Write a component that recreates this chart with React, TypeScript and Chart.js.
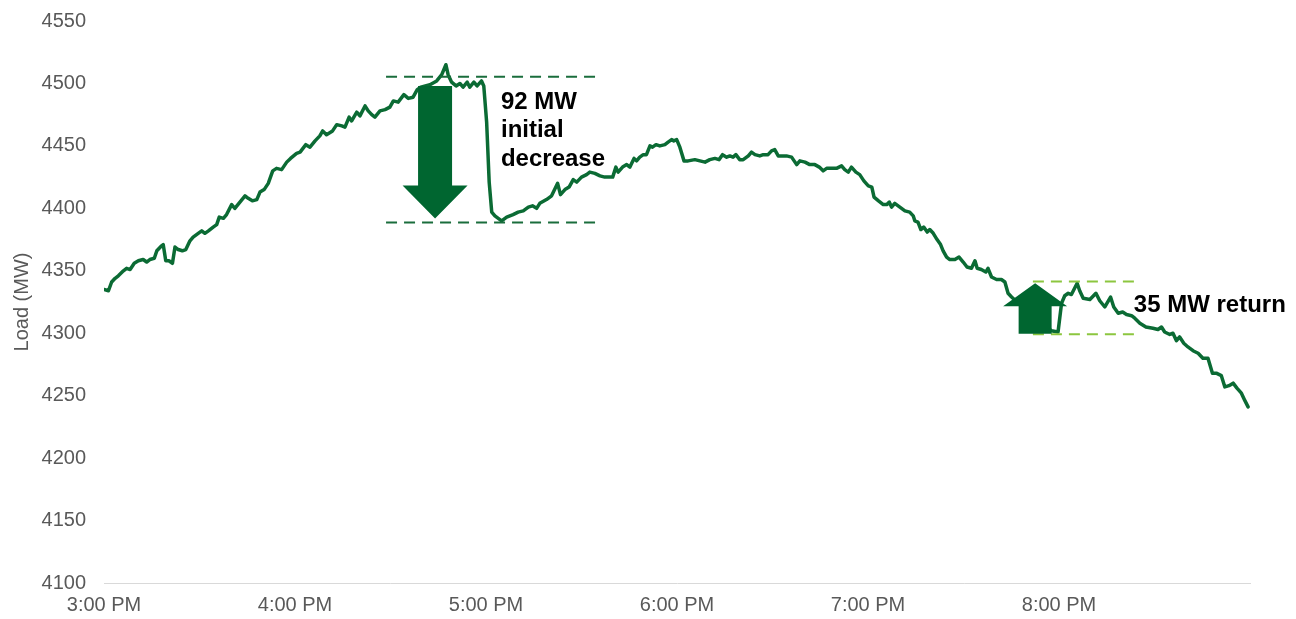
import React, { useEffect, useRef } from 'react';
import { Chart, registerables } from 'chart.js';

Chart.register(...registerables);

// Minutes after 3:00 PM and load readings (MW)
const MINUTES = [
  0, 1.4, 2.4, 3.5, 4.5, 6.1, 7.1, 8.2, 9.5, 10.8, 12.3, 13.4, 14.4, 15.8, 16.6, 18.1, 18.6, 19.4, 20.4, 21.5,
  22.3, 23.3, 24.6, 25.7, 27.0, 28.0, 29.6, 30.7, 31.7, 32.8, 34.3, 35.4, 36.2, 37.5, 38.5, 40.1, 41.1, 42.7, 44.3, 45.3,
  46.6, 48.0, 49.0, 50.3, 51.6, 53.0, 54.2, 55.8, 57.4, 58.6, 60.5, 61.6, 63.4, 64.7, 66.3, 67.8, 68.7, 69.9, 71.8, 73.1,
  74.7, 75.7, 77.0, 77.8, 79.4, 80.4, 82.0, 83.0, 84.1, 85.1, 86.7, 88.3, 89.8, 90.9, 92.4, 94.2, 95.6, 97.1, 98.4, 99.5,
  102.4, 104.5, 106.1, 107.4, 108.1, 109.2, 110.6, 111.8, 112.8, 114.1, 114.9, 116.2, 117.2, 118.6, 119.3, 120.2, 121.0, 121.8, 122.8, 124.9,
  126.5, 128.5, 130.1, 131.7, 133.3, 134.6, 135.9, 136.9, 139.0, 140.6, 142.5, 143.4, 144.8, 146.1, 147.4, 148.5, 150.0, 151.6, 152.6, 154.2,
  155.8, 157.3, 159.8, 160.8, 161.5, 162.9, 164.2, 165.2, 166.5, 167.3, 168.3, 169.4, 170.4, 171.5, 172.3, 173.4, 174.6, 176.2, 177.2, 178.3,
  179.0, 179.9, 180.9, 182.2, 183.5, 185.6, 187.2, 188.8, 190.3, 191.9, 193.2, 194.3, 195.6, 196.6, 197.6, 198.5, 199.7, 200.8, 202.4, 203.4,
  204.5, 206.0, 207.1, 208.6, 209.7, 210.7, 211.8, 214.4, 216.0, 217.6, 218.6, 220.2, 221.7, 223.3, 224.7, 225.9, 227.0, 230.1, 231.7, 232.7,
  233.8, 234.8, 236.2, 237.4, 238.7, 240.1, 241.2, 241.9, 243.3, 244.8, 245.9, 246.7, 247.4, 248.4, 250.0, 251.6, 253.1, 254.2, 254.7, 255.7,
  256.6, 257.5, 258.6, 259.4, 260.5, 261.7, 262.8, 263.6, 264.7, 265.7, 267.3, 268.6, 269.9, 271.1, 272.5, 273.6, 274.3, 275.6, 277.0, 277.7,
  278.8, 280.4, 281.9, 283.0, 284.0, 285.1, 287.7, 290.8, 294.0, 297.6, 299.7, 300.8, 301.8, 302.9, 303.9, 305.7, 306.5, 307.6, 309.7, 311.6,
  312.8, 314.4, 316.2, 317.2, 318.6, 320.0, 321.2, 322.8, 323.8, 325.4, 327.3, 329.5, 331.1, 332.2, 333.2, 334.8, 335.8, 336.9, 337.9, 339.2,
  340.5, 342.1, 343.7, 345.2, 346.8, 348.2, 349.4, 351.0, 352.1, 353.4, 354.7, 355.9, 357.3, 358.4, 359.4,
];

const LOAD_MW = [
  4335, 4334, 4341, 4344, 4346, 4350, 4352, 4351, 4356, 4358, 4359, 4357, 4359, 4360, 4366, 4370, 4371, 4358, 4358, 4356,
  4369, 4367, 4366, 4367, 4374, 4377, 4380, 4382, 4380, 4382, 4385, 4387, 4393, 4392, 4395, 4403, 4400, 4405, 4410, 4408,
  4406, 4407, 4413, 4415, 4420, 4430, 4432, 4431, 4437, 4440, 4444, 4445, 4451, 4449, 4454, 4458, 4462, 4459, 4462, 4467,
  4466, 4465, 4473, 4470, 4477, 4474, 4482, 4478, 4475, 4473, 4478, 4479, 4481, 4486, 4485, 4491, 4488, 4489, 4495, 4497,
  4499, 4502, 4507, 4515, 4507, 4501, 4498, 4500, 4497, 4501, 4497, 4501, 4498, 4502, 4498, 4469, 4421, 4397, 4394, 4390,
  4393, 4395, 4397, 4398, 4401, 4402, 4400, 4404, 4407, 4410, 4420, 4411, 4415, 4417, 4423, 4421, 4425, 4427, 4429, 4428,
  4426, 4425, 4425, 4433, 4429, 4433, 4435, 4433, 4440, 4438, 4441, 4443, 4443, 4450, 4449, 4451, 4450, 4451, 4453, 4455,
  4454, 4455, 4449, 4438, 4438, 4439, 4438, 4437, 4439, 4440, 4439, 4443, 4441, 4442, 4441, 4443, 4439, 4439, 4442, 4445,
  4443, 4442, 4443, 4443, 4446, 4447, 4442, 4442, 4441, 4435, 4438, 4437, 4435, 4435, 4433, 4430, 4432, 4432, 4434, 4431,
  4429, 4433, 4429, 4427, 4422, 4418, 4417, 4409, 4406, 4403, 4403, 4405, 4401, 4404, 4401, 4398, 4397, 4394, 4390, 4389,
  4383, 4385, 4381, 4383, 4380, 4375, 4371, 4366, 4361, 4359, 4359, 4361, 4357, 4353, 4352, 4358, 4352, 4351, 4349, 4352,
  4345, 4343, 4343, 4341, 4332, 4329, 4323, 4316, 4309, 4302, 4301, 4324, 4330, 4332, 4331, 4340, 4334, 4328, 4327, 4332,
  4326, 4321, 4329, 4321, 4316, 4317, 4315, 4314, 4312, 4308, 4305, 4304, 4303, 4305, 4301, 4299, 4300, 4294, 4297, 4292,
  4289, 4286, 4284, 4280, 4280, 4268, 4268, 4266, 4257, 4258, 4260, 4256, 4252, 4246, 4241,
];

const HOUR_LABELS = ['3:00 PM', '4:00 PM', '5:00 PM', '6:00 PM', '7:00 PM', '8:00 PM'];
const X_MIN = 0;
const X_MAX = 360;
const Y_MIN = 4100;
const Y_MAX = 4550;
const Y_STEP = 50;

// Annotation anchors in data units (minutes, MW)
const DROP_BAND = { from: 88.6, to: 155.2, top: 4505.3, bottom: 4388.6 };
const DROP_ARROW = { at: 104, tail: 4498, tip: 4391.8 };
const DROP_TEXT = { at: 124.7, firstBaseline: 4479.7, lines: ['92 MW', 'initial', 'decrease'] };
const RETURN_BAND = { from: 291.8, to: 323.8, top: 4341.4, bottom: 4299.2 };
const RETURN_ARROW = { at: 292.5, tail: 4299.6, tip: 4340 };
const RETURN_TEXT = { at: 323.5, baseline: 4316.6, text: '35 MW return' };

const LINE_COLOR = '#0b6b34';
const ARROW_COLOR = '#006630';
const DARK_DASH = '#1a6d3c';
const LIGHT_DASH = '#8cc63f';
const AXIS_TEXT = '#595959';
const FONT = '"Liberation Sans", Arial, sans-serif';

function drawArrow(ctx: CanvasRenderingContext2D, cx: number, tailY: number, tipY: number, shaftW: number, headW: number, headLen: number) {
  const dir = tipY > tailY ? 1 : -1;
  const baseY = tipY - dir * headLen;
  ctx.beginPath();
  ctx.moveTo(cx - shaftW / 2, tailY);
  ctx.lineTo(cx + shaftW / 2, tailY);
  ctx.lineTo(cx + shaftW / 2, baseY);
  ctx.lineTo(cx + headW / 2, baseY);
  ctx.lineTo(cx, tipY);
  ctx.lineTo(cx - headW / 2, baseY);
  ctx.lineTo(cx - shaftW / 2, baseY);
  ctx.closePath();
  ctx.fill();
}

const annotationPlugin = {
  id: 'loadAnnotations',
  afterDatasetsDraw(chart: any) {
    const { ctx } = chart;
    const xs = chart.scales.x;
    const ys = chart.scales.y;
    const px = (v: number) => xs.getPixelForValue(v);
    const py = (v: number) => ys.getPixelForValue(v);
    ctx.save();

    const dashLine = (x0: number, x1: number, yv: number, color: string) => {
      ctx.beginPath();
      ctx.setLineDash([11, 7]);
      ctx.strokeStyle = color;
      ctx.lineWidth = 2;
      ctx.moveTo(px(x0), py(yv));
      ctx.lineTo(px(x1), py(yv));
      ctx.stroke();
    };
    dashLine(DROP_BAND.from, DROP_BAND.to, DROP_BAND.top, DARK_DASH);
    dashLine(DROP_BAND.from, DROP_BAND.to, DROP_BAND.bottom, DARK_DASH);
    dashLine(RETURN_BAND.from, RETURN_BAND.to, RETURN_BAND.top, LIGHT_DASH);
    dashLine(RETURN_BAND.from, RETURN_BAND.to, RETURN_BAND.bottom, LIGHT_DASH);
    ctx.setLineDash([]);

    ctx.fillStyle = ARROW_COLOR;
    drawArrow(ctx, px(DROP_ARROW.at), py(DROP_ARROW.tail), py(DROP_ARROW.tip), 34, 65, 33);
    drawArrow(ctx, px(RETURN_ARROW.at), py(RETURN_ARROW.tail), py(RETURN_ARROW.tip), 33, 64, 23);

    ctx.fillStyle = '#000000';
    ctx.font = `bold 24px ${FONT}`;
    ctx.textAlign = 'left';
    ctx.textBaseline = 'alphabetic';
    const base = py(DROP_TEXT.firstBaseline);
    DROP_TEXT.lines.forEach((t, i) => ctx.fillText(t, px(DROP_TEXT.at), base + i * 28.5));
    ctx.fillText(RETURN_TEXT.text, px(RETURN_TEXT.at), py(RETURN_TEXT.baseline));
    ctx.restore();
  },
};

export default function App() {
  const canvasRef = useRef<HTMLCanvasElement | null>(null);

  useEffect(() => {
    if (!canvasRef.current) return;
    const points = MINUTES.map((m, i) => ({ x: m, y: LOAD_MW[i] }));
    const chart = new Chart(canvasRef.current, {
      type: 'line',
      data: {
        datasets: [
          {
            label: 'Load (MW)',
            data: points,
            borderColor: LINE_COLOR,
            borderWidth: 3.5,
            pointRadius: 0,
            tension: 0,
            fill: false,
            borderJoinStyle: 'round',
            borderCapStyle: 'round',
          },
        ],
      },
      options: {
        responsive: false,
        animation: false,
        layout: { padding: { left: 0, right: 46, top: 21, bottom: 0 } },
        plugins: { legend: { display: false }, tooltip: { enabled: false } },
        scales: {
          x: {
            type: 'linear',
            min: X_MIN,
            max: X_MAX,
            grid: { display: false, drawTicks: false },
            border: { display: true, color: '#d9d9d9', width: 1 },
            ticks: {
              stepSize: 60,
              autoSkip: false,
              maxRotation: 0,
              padding: 10,
              color: AXIS_TEXT,
              font: { family: FONT, size: 20 },
              callback: (v: any) => {
                const idx = Math.round(Number(v) / 60);
                return HOUR_LABELS[idx] ?? '';
              },
            },
            afterFit: (scale: any) => {
              scale.height = 36;
              scale.paddingLeft = 0;
              scale.paddingRight = 0;
            },
          },
          y: {
            type: 'linear',
            min: Y_MIN,
            max: Y_MAX,
            grid: { display: false, drawTicks: false },
            border: { display: false },
            ticks: {
              stepSize: Y_STEP,
              padding: 18,
              color: AXIS_TEXT,
              font: { family: FONT, size: 20 },
              callback: (v: any) => String(v),
            },
            title: {
              display: true,
              text: 'Load (MW)',
              color: AXIS_TEXT,
              font: { family: FONT, size: 20 },
              padding: { top: 10, bottom: 0 },
            },
            afterFit: (scale: any) => {
              scale.width = 104;
              scale.paddingTop = 0;
              scale.paddingBottom = 0;
            },
          },
        },
      },
      plugins: [annotationPlugin],
    });
    return () => chart.destroy();
  }, []);

  return (
    <div style={{ position: 'absolute', left: 0, top: 0, width: 1296, height: 619, background: '#fff' }}>
      <canvas ref={canvasRef} width={1296} height={619} />
    </div>
  );
}
